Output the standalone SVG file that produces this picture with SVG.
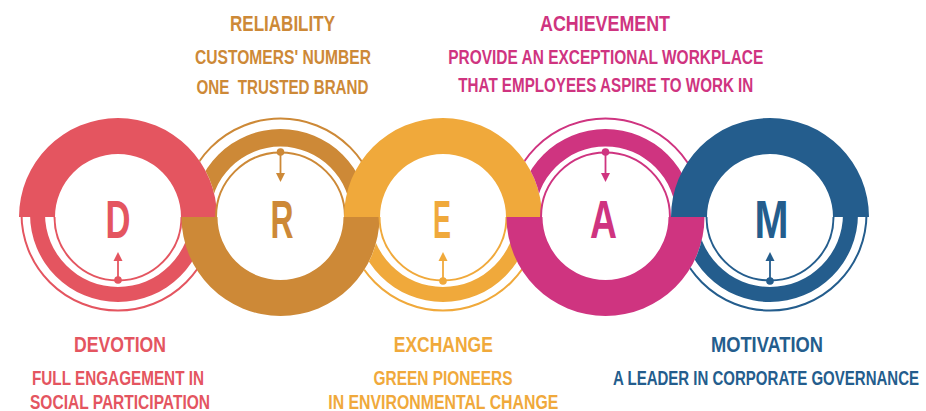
<svg xmlns="http://www.w3.org/2000/svg" width="926" height="411" viewBox="0 0 926 411">
<style>
text{font-family:"Liberation Sans Narrow","Liberation Sans",Arial,sans-serif;font-weight:bold;text-anchor:middle}
.big{font-size:53px}
.t{font-size:22px}
.s{font-size:20px}
.ln{fill:none;stroke-width:2}
.ar{stroke-width:1.8}
.cD{fill:#E45560;stroke:#E45560}
.cR{fill:#CD8937;stroke:#CD8937}
.cE{fill:#F0A93B;stroke:#F0A93B}
.cA{fill:#CF3480;stroke:#CF3480}
.cM{fill:#245D8D;stroke:#245D8D}
text{stroke:none}
</style>
<defs>
<clipPath id="exD"><path clip-rule="evenodd" d="M0 0H926V411H0Z M19 217a99 99 0 1 0 198 0a99 99 0 1 0 -198 0Z"/></clipPath>
<clipPath id="exR"><path clip-rule="evenodd" d="M0 0H926V411H0Z M181.5 217a99 99 0 1 0 198 0a99 99 0 1 0 -198 0Z"/></clipPath>
<clipPath id="exE"><path clip-rule="evenodd" d="M0 0H926V411H0Z M344 217a99 99 0 1 0 198 0a99 99 0 1 0 -198 0Z"/></clipPath>
<clipPath id="exA"><path clip-rule="evenodd" d="M0 0H926V411H0Z M506.5 217a99 99 0 1 0 198 0a99 99 0 1 0 -198 0Z"/></clipPath>
</defs>
<rect width="926" height="411" fill="#fff"/>

<g id="connectors"></g>

<!-- D -->
<g id="node-D" class="cD">
  <g transform="translate(0,-3)">
    <path class="ln" d="M21.5 217A96.5 96.5 0 0 0 214.5 217"/>
    <path stroke="none" d="M30 217A88 88 0 0 0 206 217H191A73 73 0 0 1 45 217Z"/>
  </g>
  <path class="ln" d="M54.5 217A63.5 63.5 0 0 0 181.5 217"/>
  <path stroke="none" d="M19 217A99 99 0 0 1 217 217H181A63 63 0 0 0 55 217Z"/>
  <line class="ar" x1="118" y1="280" x2="118" y2="259"/>
  <polygon stroke="none" points="118,252 113.5,261 122.5,261"/>
  <circle stroke="none" cx="118" cy="280" r="3.8"/>
  <text class="big" x="118" y="238" textLength="25" lengthAdjust="spacingAndGlyphs">D</text>
  <text class="t" x="120" y="352" textLength="92" lengthAdjust="spacingAndGlyphs">DEVOTION</text>
  <text class="s" x="118" y="385" textLength="172" lengthAdjust="spacingAndGlyphs">FULL ENGAGEMENT IN</text>
  <text class="s" x="120" y="408.5" textLength="180" lengthAdjust="spacingAndGlyphs">SOCIAL PARTICIPATION</text>
</g>

<!-- R -->
<g id="node-R" class="cR">
  <g clip-path="url(#exD)">
    <path class="ln" d="M182 217A98.5 98.5 0 0 1 379 217"/>
    <path stroke="none" d="M192.5 217A88 88 0 0 1 368.5 217H351A70.5 70.5 0 0 0 210 217Z"/>
  </g>
  <path class="ln" d="M216 217A64.5 64.5 0 0 1 345 217"/>
  <path stroke="none" d="M181.5 217A99 99 0 0 0 379.5 217H343.5A63 63 0 0 1 217.5 217Z"/>
  <line class="ar" x1="280.5" y1="152" x2="280.5" y2="174"/>
  <polygon stroke="none" points="280.5,182 276,173 285,173"/>
  <circle stroke="none" cx="280.5" cy="152" r="3.8"/>
  <text class="big" x="282" y="238" textLength="23" lengthAdjust="spacingAndGlyphs">R</text>
  <text class="t" x="282.5" y="30.5" textLength="105" lengthAdjust="spacingAndGlyphs">RELIABILITY</text>
  <text class="s" x="283" y="63.5" textLength="176" lengthAdjust="spacingAndGlyphs">CUSTOMERS' NUMBER</text>
  <text class="s" x="282.5" y="94" textLength="172" lengthAdjust="spacingAndGlyphs" xml:space="preserve">ONE  TRUSTED BRAND</text>
</g>

<!-- E -->
<g id="node-E" class="cE">
  <g clip-path="url(#exR)">
    <g transform="translate(0,-3)">
      <path class="ln" d="M346.5 217A96.5 96.5 0 0 0 539.5 217"/>
      <path stroke="none" d="M355 217A88 88 0 0 0 531 217H516A73 73 0 0 1 370 217Z"/>
    </g>
  </g>
  <path class="ln" d="M379.5 217A63.5 63.5 0 0 0 506.5 217"/>
  <path stroke="none" d="M344 217A99 99 0 0 1 542 217H506A63 63 0 0 0 380 217Z"/>
  <line class="ar" x1="443" y1="281" x2="443" y2="259"/>
  <polygon stroke="none" points="443,252 438.5,261 447.5,261"/>
  <circle stroke="none" cx="443" cy="281" r="3.8"/>
  <text class="big" x="442" y="238" textLength="18" lengthAdjust="spacingAndGlyphs">E</text>
  <text class="t" x="443.3" y="352" textLength="99" lengthAdjust="spacingAndGlyphs">EXCHANGE</text>
  <text class="s" x="443" y="385" textLength="139" lengthAdjust="spacingAndGlyphs">GREEN PIONEERS</text>
  <text class="s" x="443.3" y="408.5" textLength="230" lengthAdjust="spacingAndGlyphs">IN ENVIRONMENTAL CHANGE</text>
</g>

<!-- A -->
<g id="node-A" class="cA">
  <g clip-path="url(#exE)">
    <path class="ln" d="M507 217A98.5 98.5 0 0 1 704 217"/>
    <path stroke="none" d="M517.5 217A88 88 0 0 1 693.5 217H676A70.5 70.5 0 0 0 535 217Z"/>
  </g>
  <path class="ln" d="M541 217A64.5 64.5 0 0 1 670 217"/>
  <path stroke="none" d="M506.5 217A99 99 0 0 0 704.5 217H668.5A63 63 0 0 1 542.5 217Z"/>
  <line class="ar" x1="605.5" y1="152" x2="605.5" y2="174"/>
  <polygon stroke="none" points="605.5,182 601,173 610,173"/>
  <circle stroke="none" cx="605.5" cy="152" r="3.8"/>
  <text class="big" x="603.5" y="238" textLength="27" lengthAdjust="spacingAndGlyphs">A</text>
  <text class="t" x="605" y="31" textLength="130" lengthAdjust="spacingAndGlyphs">ACHIEVEMENT</text>
  <text class="s" x="605.8" y="64" textLength="315" lengthAdjust="spacingAndGlyphs">PROVIDE AN EXCEPTIONAL WORKPLACE</text>
  <text class="s" x="605.8" y="92" textLength="295" lengthAdjust="spacingAndGlyphs">THAT EMPLOYEES ASPIRE TO WORK IN</text>
</g>

<!-- M -->
<g id="node-M" class="cM">
  <g clip-path="url(#exA)">
    <g transform="translate(0,-3)">
      <path class="ln" d="M673.5 217A96.5 96.5 0 0 0 866.5 217"/>
      <path stroke="none" d="M682 217A88 88 0 0 0 858 217H843A73 73 0 0 1 697 217Z"/>
    </g>
  </g>
  <path class="ln" d="M706.5 217A63.5 63.5 0 0 0 833.5 217"/>
  <path stroke="none" d="M671 217A99 99 0 0 1 869 217H833A63 63 0 0 0 707 217Z"/>
  <line class="ar" x1="770" y1="281" x2="770" y2="259"/>
  <polygon stroke="none" points="770,252 765.5,261 774.5,261"/>
  <circle stroke="none" cx="770" cy="281" r="3.8"/>
  <text class="big" x="771.5" y="238" textLength="34" lengthAdjust="spacingAndGlyphs">M</text>
  <text class="t" x="767" y="352" textLength="112" lengthAdjust="spacingAndGlyphs">MOTIVATION</text>
  <text class="s" transform="translate(766,384.5) scale(0.75,1)" x="0" y="0" textLength="408" lengthAdjust="spacingAndGlyphs">A LEADER IN CORPORATE GOVERNANCE</text>
</g>
</svg>
